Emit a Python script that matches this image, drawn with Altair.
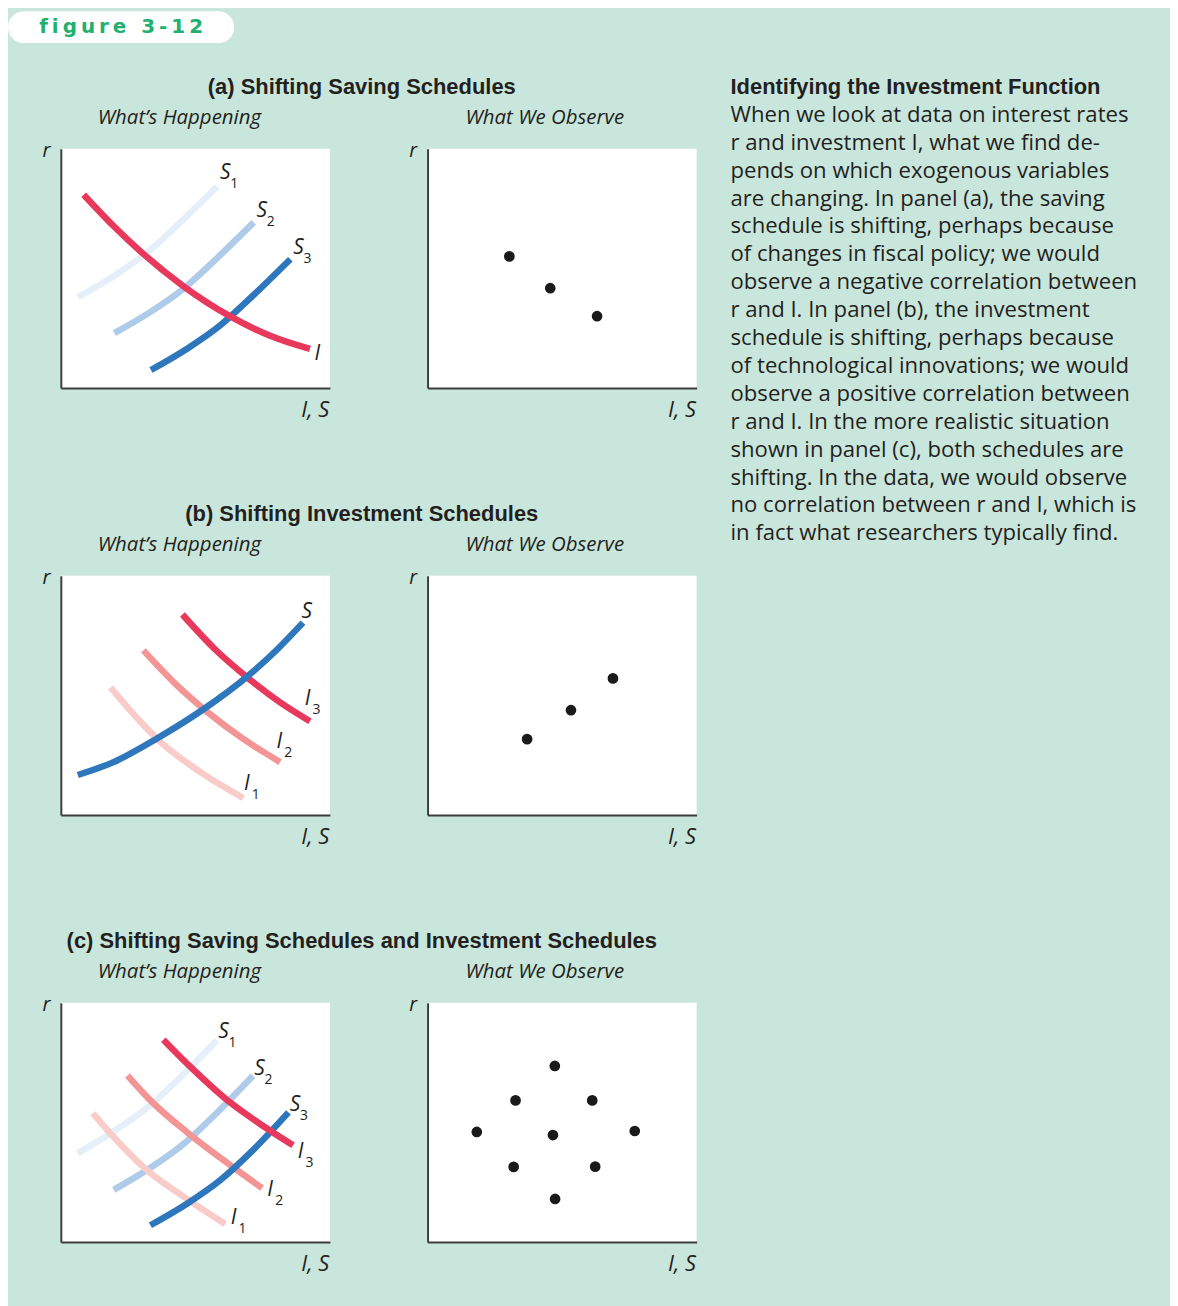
import altair as alt
import pandas as pd

# ---------------- colours / fonts ----------------
BG = "#c9e6dc"
INK = "#231f20"
AXIS = "#3d3d3d"
GREEN = "#22b06e"
RED = "#e8385b"
PINK = "#f39594"
PALE_PINK = "#f9cbc9"
BLUE = "#2e77bd"
LIGHT_BLUE = "#aecbea"
PALE_BLUE = "#e5eff9"
HUM = "Open Sans"
BOLD = "Liberation Sans"

# ---------------- texts ----------------
TAB_TEXT = "f\u2009i\u2009g\u2009u\u2009r\u2009e\u2009 \u20093\u2009-\u20091\u20092"
SECTION_TITLES = ["(a) Shifting Saving Schedules",
                  "(b) Shifting Investment Schedules",
                  "(c) Shifting Saving Schedules and Investment Schedules"]
LEFT_SUB = "What\u2019s Happening"
RIGHT_SUB = "What We Observe"
X_TITLE = "I, S"
Y_TITLE = "r"
HEADING = "Identifying the Investment Function"
BODY_LINES = [
    "When we look at data on interest rates",
    "r and investment I, what we find de-",
    "pends on which exogenous variables",
    "are changing. In panel (a), the saving",
    "schedule is shifting, perhaps because",
    "of changes in fiscal policy; we would",
    "observe a negative correlation between",
    "r and I. In panel (b), the investment",
    "schedule is shifting, perhaps because",
    "of technological innovations; we would",
    "observe a positive correlation between",
    "r and I. In the more realistic situation",
    "shown in panel (c), both schedules are",
    "shifting. In the data, we would observe",
    "no correlation between r and I, which is",
    "in fact what researchers typically find.",
]

# ---------------- panel (a) ----------------
a_S1_x = [0.63, 1.96, 3.22, 4.44, 5.81]
a_S1_y = [3.79, 4.67, 5.67, 6.92, 8.42]
a_S2_x = [1.99, 3.32, 4.58, 5.80, 7.17]
a_S2_y = [2.29, 3.17, 4.17, 5.42, 6.92]
a_S3_x = [3.35, 4.68, 5.94, 7.16, 8.53]
a_S3_y = [0.75, 1.63, 2.63, 3.88, 5.38]
a_I_x = [0.85, 1.96, 2.96, 4.56, 6.30, 7.78, 9.26]
a_I_y = [8.08, 6.77, 5.71, 4.25, 2.99, 2.18, 1.63]
a_lab_x = [6.11, 7.47, 8.83, 9.53]
a_lab_y = [8.99, 7.39, 5.86, 1.42]
a_lab_letter = ["S", "S", "S", "I"]
a_lab_sub = ["1", "2", "3", ""]
a_dot_x = [3.04, 4.56, 6.30]
a_dot_y = [5.50, 4.17, 3.00]

# ---------------- panel (b) ----------------
b_S_x = [0.63, 1.96, 3.59, 5.30, 6.93, 8.04, 9.00]
b_S_y = [1.67, 2.21, 3.21, 4.42, 5.79, 6.92, 8.04]
b_I1_x = [1.85, 2.74, 3.63, 5.19, 6.78]
b_I1_y = [5.33, 4.17, 3.13, 1.79, 0.71]
b_I2_x = [3.07, 4.26, 5.44, 6.74, 8.15]
b_I2_y = [6.88, 5.48, 4.31, 3.21, 2.21]
b_I3_x = [4.52, 5.70, 6.93, 8.15, 9.26]
b_I3_y = [8.38, 6.96, 5.75, 4.71, 3.92]
b_lab_x = [9.14, 9.17, 8.12, 6.91]
b_lab_y = [8.47, 4.83, 3.03, 1.29]
b_lab_letter = ["S", "I", "I", "I"]
b_lab_sub = ["", "3", "2", "1"]
b_dot_x = [3.70, 5.33, 6.89]
b_dot_y = [3.17, 4.38, 5.71]

# ---------------- panel (c) ----------------
c_S1_x = [0.62, 1.96, 3.22, 4.44, 5.80]
c_S1_y = [3.71, 4.62, 5.62, 6.88, 8.43]
c_S2_x = [1.97, 3.30, 4.56, 5.78, 7.14]
c_S2_y = [2.18, 3.08, 4.10, 5.38, 6.95]
c_S3_x = [3.33, 4.66, 5.92, 7.14, 8.46]
c_S3_y = [0.70, 1.58, 2.58, 3.84, 5.42]
c_I1_x = [1.19, 2.11, 3.07, 4.81, 6.11]
c_I1_y = [5.38, 4.21, 3.13, 1.71, 0.75]
c_I2_x = [2.48, 3.33, 4.70, 6.30, 7.48]
c_I2_y = [6.96, 5.92, 4.58, 3.21, 2.25]
c_I3_x = [3.81, 4.81, 6.11, 7.48, 8.63]
c_I3_y = [8.46, 7.33, 6.00, 4.88, 4.04]
c_lab_x = [6.05, 7.38, 8.70, 8.91, 7.78, 6.42]
c_lab_y = [8.78, 7.25, 5.72, 3.78, 2.18, 1.00]
c_lab_letter = ["S", "S", "S", "I", "I", "I"]
c_lab_sub = ["1", "2", "3", "3", "2", "1"]
c_dot_x = [4.73, 3.27, 6.12, 1.83, 4.66, 7.70, 3.20, 6.23, 4.74]
c_dot_y = [7.36, 5.92, 5.92, 4.60, 4.47, 4.64, 3.14, 3.15, 1.80]

# ---------------- helpers ----------------
PW, PH = 270, 240

x_axis = alt.Axis(title=X_TITLE, domain=True, domainColor=AXIS, domainWidth=2,
                  ticks=False, labels=False, grid=False,
                  titleFont=HUM, titleFontStyle="italic", titleFontWeight="normal",
                  titleFontSize=22, titleColor=INK, titleAlign="right",
                  titleBaseline="alphabetic", titleX=PW - 1, titleY=29, titleAngle=0)
y_axis = alt.Axis(title=Y_TITLE, domain=True, domainColor=AXIS, domainWidth=2,
                  ticks=False, labels=False, grid=False,
                  titleFont=HUM, titleFontStyle="italic", titleFontWeight="normal",
                  titleFontSize=20, titleColor=INK, titleAlign="center",
                  titleBaseline="alphabetic", titleX=-15, titleY=8, titleAngle=0)
X = alt.X("x:Q", scale=alt.Scale(domain=[0, 10], nice=False, zero=False), axis=x_axis)
Y = alt.Y("y:Q", scale=alt.Scale(domain=[0, 10], nice=False, zero=False), axis=y_axis)

CLEAR_VIEW = alt.ViewBackground(fill="transparent", strokeWidth=0)


def line_layer(xs, ys, color):
    df = pd.DataFrame({"x": xs, "y": ys, "k": list(range(len(xs)))})
    return alt.Chart(df).mark_line(color=color, strokeWidth=6.5, interpolate="monotone",
                                   strokeCap="butt").encode(x=X, y=Y, order="k:Q")


def label_layers(xs, ys, letters, subs):
    df = pd.DataFrame({"x": xs, "y": ys, "letter": letters, "sub": subs})
    main = alt.Chart(df).mark_text(font=HUM, fontStyle="italic", fontSize=21, color=INK,
                                   align="center", baseline="middle").encode(x=X, y=Y, text="letter:N")
    sub = alt.Chart(df).mark_text(font=HUM, fontSize=14, color=INK, align="center",
                                  baseline="middle", dx=9, dy=11).encode(x=X, y=Y, text="sub:N")
    return [main, sub]


def sub_title(text, dx):
    return alt.TitleParams(text, anchor="start", frame="group", dx=dx, offset=12,
                           font=HUM, fontStyle="italic", fontWeight="normal",
                           fontSize=20.5, color=INK, baseline="top")


def plot_props(layer, title):
    return layer.properties(width=PW, height=PH, title=title,
                            view=alt.ViewBackground(fill="white", strokeWidth=0))


def dots(xs, ys):
    df = pd.DataFrame({"x": xs, "y": ys})
    return plot_props(alt.layer(alt.Chart(df).mark_circle(size=115, color="#1a1a1a", opacity=1)
                                .encode(x=X, y=Y)), sub_title(RIGHT_SUB, 38))


def section(title, left, right):
    hdr = alt.Chart(pd.DataFrame({"t": [title]})).mark_text(
        font=BOLD, fontWeight="bold", fontSize=22, color=INK, align="center",
        baseline="middle", dx=-17, dy=-3).encode(text="t:N").properties(
        width=638, height=28, view=CLEAR_VIEW)
    return alt.vconcat(hdr, alt.hconcat(left, right, spacing=79), spacing=4)


# ---------------- panels ----------------
a_left = plot_props(alt.layer(
    line_layer(a_S1_x, a_S1_y, PALE_BLUE),
    line_layer(a_S2_x, a_S2_y, LIGHT_BLUE),
    line_layer(a_S3_x, a_S3_y, BLUE),
    line_layer(a_I_x, a_I_y, RED),
    *label_layers(a_lab_x, a_lab_y, a_lab_letter, a_lab_sub)), sub_title(LEFT_SUB, 37))
a_right = dots(a_dot_x, a_dot_y)

b_left = plot_props(alt.layer(
    line_layer(b_I1_x, b_I1_y, PALE_PINK),
    line_layer(b_I2_x, b_I2_y, PINK),
    line_layer(b_I3_x, b_I3_y, RED),
    line_layer(b_S_x, b_S_y, BLUE),
    *label_layers(b_lab_x, b_lab_y, b_lab_letter, b_lab_sub)), sub_title(LEFT_SUB, 37))
b_right = dots(b_dot_x, b_dot_y)

c_left = plot_props(alt.layer(
    line_layer(c_S1_x, c_S1_y, PALE_BLUE),
    line_layer(c_S2_x, c_S2_y, LIGHT_BLUE),
    line_layer(c_I1_x, c_I1_y, PALE_PINK),
    line_layer(c_I2_x, c_I2_y, PINK),
    line_layer(c_S3_x, c_S3_y, BLUE),
    line_layer(c_I3_x, c_I3_y, RED),
    *label_layers(c_lab_x, c_lab_y, c_lab_letter, c_lab_sub)), sub_title(LEFT_SUB, 37))
c_right = dots(c_dot_x, c_dot_y)

sec_a = section(SECTION_TITLES[0], a_left, a_right)
sec_b = section(SECTION_TITLES[1], b_left, b_right)
sec_c = section(SECTION_TITLES[2], c_left, c_right)

left_col = alt.vconcat(sec_a, sec_b, sec_c, spacing=82.5)

empty = pd.DataFrame({"v": pd.Series([], dtype="float")})
spacer = alt.Chart(empty).mark_point(opacity=0).properties(width=1, height=1, view=CLEAR_VIEW)

# text block: heading (row 0) + body lines, one band of 28 px per row
text_df = pd.DataFrame({"row": list(range(len(BODY_LINES) + 1)),
                        "line": [HEADING] + BODY_LINES,
                        "kind": ["head"] + ["body"] * len(BODY_LINES)})
row_y = alt.Y("row:O", axis=None, scale=alt.Scale(paddingInner=0, paddingOuter=0))
head_layer = alt.Chart(text_df).transform_filter(alt.datum.kind == "head").mark_text(
    font=BOLD, fontWeight="bold", fontSize=22, color=INK, align="left", baseline="middle",
    dx=1, dy=-3).encode(x=alt.value(0), y=row_y, text="line:N")
body_layer = alt.Chart(text_df).transform_filter(alt.datum.kind == "body").mark_text(
    font=HUM, fontSize=22.2, color=INK, align="left", baseline="middle",
    dx=1, dy=-3).encode(x=alt.value(0), y=row_y, text="line:N")
text_block = alt.layer(head_layer, body_layer).properties(
    width=420, height=28 * len(text_df), view=CLEAR_VIEW)

body = alt.hconcat(spacer, left_col, text_block, spacing=33)

tab = alt.Chart(pd.DataFrame({"label": [TAB_TEXT]})).mark_text(
    font="DejaVu Sans", fontWeight="bold", fontSize=20, color=GREEN,
    align="center", baseline="middle").encode(text="label:N").properties(
    width=227, height=32, view=alt.ViewBackground(fill="white", cornerRadius=16, strokeWidth=0))

chart = alt.vconcat(tab, body, spacing=33,
                    padding={"left": 0, "top": 1, "right": 22, "bottom": 30},
                    background=BG).configure_view(strokeWidth=0)

chart.save("out.html", embed_options={"renderer": "svg", "actions": False})
